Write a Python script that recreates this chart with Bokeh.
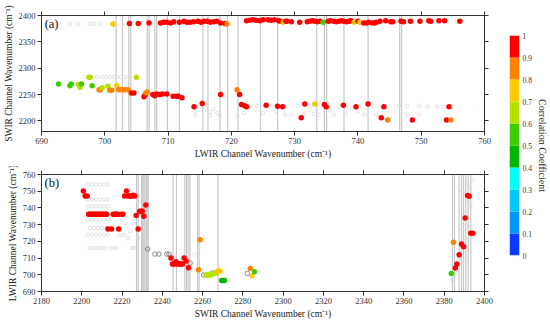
from bokeh.plotting import figure
from bokeh.models import Span, Label, FixedTicker, LinearAxis, LinearColorMapper, ColumnDataSource, Range1d
from bokeh.layouts import row, column
from bokeh.embed import file_html
from bokeh.resources import INLINE

FONT = "Liberation Serif"

# ---------------- colour scale ----------------
palette = ["#0a3cff", "#0096ff", "#00c8ff", "#00ffff", "#00b400",
           "#3ccd00", "#b4e100", "#ffc800", "#ff8200", "#ff0000"]
cb_edges = [0.0, 0.1, 0.2, 0.3, 0.4, 0.5, 0.6, 0.7, 0.8, 0.9, 1.0]
cb_labels = ["0", "0.1", "0.2", "0.3", "0.4", "0.5", "0.6", "0.7", "0.8", "0.9", "1"]

# ---------------- panel (a) data ----------------
a_x = [701.3, 703.9, 705.3, 707.0, 708.8, 709.3, 709.8, 710.4, 710.9, 711.8, 712.5, 713.0,
       713.5, 714.0, 714.7, 715.2, 715.7, 716.2, 716.7, 717.2, 717.7, 718.3, 719.0, 719.3,
       722.4, 722.9, 723.4, 723.9, 724.5, 725.0, 725.8, 726.3, 726.8, 727.5, 727.8, 728.2,
       728.6, 728.8, 729.5, 730.8, 732.0, 732.4, 732.8, 733.2, 733.6, 734.0, 734.5, 735.3,
       735.7, 736.2, 736.6, 737.0, 737.4, 737.8, 738.2, 738.6, 738.9, 739.4, 740.0, 740.3,
       740.9, 741.4, 741.7, 742.3, 742.6, 742.9, 743.5, 744.4, 745.2, 745.5, 746.8, 747.2,
       748.3, 749.8, 751.2, 751.5, 752.8, 753.7, 756.1,
       692.7, 694.5, 694.7, 695.8, 696.1, 696.3, 697.5, 697.7, 698.0, 699.1, 699.3, 699.6,
       700.5, 700.8, 701.1, 701.9, 702.2, 702.6, 702.9, 703.3, 703.7, 704.2, 704.6, 705.0,
       706.2, 706.4, 706.5, 706.7, 707.6, 707.9, 708.2, 708.7, 709.1, 709.8, 710.8, 711.3,
       711.6, 712.2, 714.1, 715.4, 718.3, 720.9, 721.3, 721.6, 722.1, 722.4, 725.5, 727.3,
       728.1, 731.05, 731.6, 733.2, 734.7, 735.0, 737.7, 739.7, 741.6, 743.7, 744.1, 744.7,
       748.6, 754.0, 754.4, 754.7]
a_y = [2384, 2385, 2385, 2386, 2386, 2387, 2387, 2386, 2388, 2387, 2389, 2387,
       2387, 2388, 2389, 2387, 2389, 2389, 2387, 2388, 2389, 2386, 2385, 2384,
       2390, 2391, 2392, 2391, 2390, 2392, 2392, 2391, 2392, 2390, 2389, 2387,
       2389, 2389, 2388, 2387, 2388, 2389, 2390, 2389, 2388, 2389, 2387, 2389,
       2390, 2389, 2388, 2389, 2390, 2389, 2388, 2389, 2390, 2387, 2389, 2387,
       2386, 2386, 2387, 2386, 2386, 2387, 2389, 2390, 2388, 2388, 2389, 2388,
       2389, 2389, 2390, 2389, 2390, 2390, 2389,
       2270, 2267, 2270, 2269, 2264, 2270, 2283, 2283, 2267, 2259, 2259, 2263,
       2266, 2258, 2258, 2267, 2259, 2259, 2259, 2259, 2259, 2253, 2253, 2283,
       2246, 2250, 2253, 2255, 2250, 2248, 2251, 2250, 2251, 2251, 2247, 2247,
       2247, 2244, 2227, 2233, 2250, 2259, 2250, 2231, 2229, 2227, 2230, 2228,
       2227, 2206, 2232, 2232, 2231, 2227, 2230, 2227, 2232, 2206, 2227, 2202,
       2202, 2202, 2227, 2202]
a_r = [0.75, 0.95, 0.95, 0.95, 0.95, 0.95, 0.95, 0.95, 0.95, 0.95, 0.95, 0.95,
       0.95, 0.95, 0.95, 0.95, 0.95, 0.95, 0.95, 0.95, 0.95, 0.95, 0.95, 0.85,
       0.95, 0.95, 0.95, 0.95, 0.95, 0.95, 0.95, 0.95, 0.95, 0.95, 0.95, 0.75,
       0.95, 0.95, 0.95, 0.95, 0.95, 0.95, 0.95, 0.95, 0.95, 0.95, 0.55, 0.95,
       0.95, 0.95, 0.95, 0.95, 0.95, 0.95, 0.95, 0.95, 0.95, 0.75, 0.95, 0.75,
       0.95, 0.95, 0.95, 0.95, 0.95, 0.95, 0.95, 0.95, 0.95, 0.95, 0.95, 0.95,
       0.95, 0.95, 0.95, 0.95, 0.95, 0.95, 0.95,
       0.55, 0.55, 0.55, 0.65, 0.65, 0.55, 0.65, 0.65, 0.55, 0.85, 0.85, 0.65,
       0.65, 0.85, 0.85, 0.75, 0.85, 0.85, 0.85, 0.85, 0.85, 0.95, 0.95, 0.65,
       0.95, 0.95, 0.85, 0.85, 0.95, 0.95, 0.95, 0.95, 0.95, 0.95, 0.95, 0.95,
       0.95, 0.95, 0.95, 0.95, 0.95, 0.85, 0.95, 0.95, 0.95, 0.95, 0.95, 0.95,
       0.95, 0.95, 0.95, 0.75, 0.95, 0.95, 0.95, 0.95, 0.95, 0.95, 0.95, 0.85,
       0.95, 0.95, 0.95, 0.85]

a_bg_x = [694.5, 695.8, 697.6, 698.3, 699.2,
          696.8, 698.8, 699.6, 700.2, 700.8, 701.4, 702.0, 702.6, 703.3, 704.0,
          714.3, 714.3, 716.0, 716.6, 716.6, 717.2, 717.8, 718.2, 721.0, 722.0, 723.0,
          724.0, 725.0, 727.0, 728.5, 729.5, 730.5, 731.5, 732.5, 733.0, 733.8, 734.5,
          735.6, 736.2, 737.0, 738.0, 738.6, 740.0, 741.0, 742.5, 743.0, 745.0, 746.5,
          747.8, 747.8, 749.7, 749.7, 751.0, 752.5, 753.5, 754.8, 755.5]
a_bg_y = [2384, 2384, 2384, 2384, 2384,
          2283, 2283, 2283, 2283, 2283, 2283, 2283, 2283, 2283, 2283,
          2218, 2210, 2225, 2217, 2210, 2222, 2215, 2210, 2210, 2215, 2228,
          2228, 2215, 2218, 2212, 2212, 2228, 2213, 2227, 2213, 2212, 2227,
          2220, 2212, 2227, 2212, 2227, 2218, 2212, 2228, 2212, 2206, 2228,
          2228, 2212, 2228, 2212, 2227, 2227, 2227, 2227, 2389]

a_lines = [701.8, 702.8, 703.8, 704.1, 706.7, 707.0, 707.9, 708.2, 709.9, 711.8, 715.5,
           716.3, 718.2, 719.4, 721.05, 724.6, 727.3, 733.5, 734.7, 735.05, 737.8, 741.6,
           746.6, 746.9]

# ---------------- panel (b) data ----------------
b_x = [2200.8, 2201.7, 2202.7,
       2203.4, 2204.0, 2204.6, 2205.2, 2205.8, 2206.4, 2207.0, 2207.6, 2208.2, 2208.8,
       2209.4, 2210.0, 2210.6, 2211.2, 2211.8, 2212.4,
       2213.0, 2214.8, 2215.6, 2216.2, 2216.8, 2217.4, 2218.0, 2218.3, 2219.6, 2220.4,
       2221.3, 2222.2, 2222.9, 2223.6, 2224.3, 2225.0, 2225.6, 2226.3,
       2227.0, 2228.0, 2228.8, 2229.5, 2230.0, 2230.8, 2231.8,
       2244.3, 2245.0, 2245.6, 2246.2, 2247.6, 2248.2, 2248.8, 2249.4, 2250.0, 2246.8,
       2250.8, 2251.8, 2253.0,
       2258.0, 2258.8,
       2261.7, 2262.3, 2262.9, 2263.5, 2264.2, 2265.8, 2266.4, 2267.0,
       2267.6, 2268.6, 2269.5, 2270.2, 2270.8,
       2283.7, 2284.5, 2285.8,
       2383.5, 2384.6, 2385.5, 2386.3, 2387.4, 2388.6, 2389.6, 2390.4, 2391.6, 2392.4,
       2393.2, 2394.2]
b_y = [750.2, 747.2, 747.2,
       736.2, 736.2, 736.2, 736.2, 736.2, 736.2, 736.2, 736.2, 736.2, 736.2,
       736.2, 736.2, 736.2, 736.2, 736.2, 736.2,
       727.4, 727.4, 736.2, 736.2, 736.2, 736.2, 736.2, 727.4, 736.2, 736.2,
       747.2, 750.2, 747.2, 747.2, 747.2, 747.2, 747.6, 747.2,
       735.4, 727.4, 738.0, 738.0, 738.0, 735.0, 741.8,
       710.0, 706.4, 706.4, 706.4, 706.4, 706.4, 706.4, 706.4, 706.4, 707.8,
       710.0, 708.2, 704.2,
       703.0, 721.0,
       699.8, 699.8, 699.8, 699.8, 699.8, 701.0, 701.0, 701.2,
       702.2, 702.2, 696.6, 696.6, 696.6,
       703.8, 699.4, 701.8,
       700.8, 719.4, 704.0, 706.4, 712.0, 718.4, 716.8, 734.0, 747.4, 747.0,
       724.8, 724.8]
b_r = [0.95, 0.95, 0.95,
       0.95, 0.95, 0.95, 0.95, 0.95, 0.95, 0.95, 0.95, 0.95, 0.95,
       0.95, 0.95, 0.95, 0.95, 0.95, 0.95,
       0.95, 0.95, 0.95, 0.95, 0.95, 0.95, 0.95, 0.95, 0.95, 0.95,
       0.95, 0.95, 0.95, 0.95, 0.95, 0.95, 0.95, 0.95,
       0.95, 0.95, 0.95, 0.95, 0.95, 0.95, 0.95,
       0.95, 0.95, 0.95, 0.95, 0.95, 0.95, 0.95, 0.95, 0.95, 0.95,
       0.95, 0.95, 0.95,
       0.85, 0.85,
       0.65, 0.65, 0.65, 0.65, 0.65, 0.65, 0.65, 0.65,
       0.75, 0.75, 0.45, 0.45, 0.45,
       0.85, 0.75, 0.55,
       0.55, 0.85, 0.95, 0.95, 0.95, 0.95, 0.95, 0.95, 0.95, 0.95,
       0.95, 0.95]

b_open_x = [2232.7, 2236.3, 2238.3, 2242.2, 2243.3, 2253.8, 2260.5, 2264.7, 2282.2]
b_open_y = [715.4, 712.4, 712.4, 712.4, 712.4, 707.0, 699.8, 701.0, 700.8]

b_bg_x = [2203, 2205, 2207, 2209, 2211, 2213, 2203, 2205, 2207, 2209, 2211, 2213,
          2203, 2205, 2207, 2209, 2211, 2213, 2203, 2205, 2207, 2209, 2211, 2213,
          2203, 2205, 2207, 2209, 2211, 2213, 2204, 2206, 2208, 2210, 2212,
          2204, 2206, 2208, 2210, 2212, 2215, 2217, 2219, 2221, 2223, 2225,
          2220, 2222, 2224, 2226, 2228, 2226, 2228, 2256, 2258,
          2394, 2393, 2392, 2393, 2391, 2390, 2392, 2389, 2391, 2388, 2387, 2386,
          2385, 2384, 2390, 2389, 2391, 2392]
b_bg_y = [754, 754, 754, 754, 754, 754, 745, 745, 745, 745, 745, 745,
          741, 741, 741, 741, 741, 741, 733, 733, 733, 733, 733, 733,
          724, 724, 724, 724, 724, 724, 728, 728, 728, 728, 728,
          716, 716, 716, 716, 716, 716, 716, 724, 724, 722, 716,
          733, 731, 726, 732, 744, 716, 722, 712, 716,
          757, 752, 744, 741, 738, 731, 729, 727, 721, 714, 709, 703,
          699, 697, 708, 750, 736, 754]

b_lines = [2227.2, 2228.0, 2229.7, 2230.3, 2230.8, 2231.3, 2232.0, 2232.5, 2233.0,
           2245.3, 2247.0, 2251.2, 2252.0, 2252.8, 2253.7, 2257.5, 2258.3, 2267.7,
           2384.1, 2385.1, 2387.4, 2388.6, 2389.6, 2390.7, 2391.9, 2393.2]

# ticks
a_xticks = [690, 700, 710, 720, 730, 740, 750, 760]
a_yticks = [2200, 2250, 2300, 2350, 2400]
b_xticks = [2180, 2200, 2220, 2240, 2260, 2280, 2300, 2320, 2340, 2360, 2380, 2400]
b_yticks = [690, 700, 710, 720, 730, 740, 750, 760]

mapper = LinearColorMapper(palette=palette, low=0, high=1)


def style_axis(ax, ticks, labels=True):
    ax.ticker = FixedTicker(ticks=ticks)
    ax.axis_line_color = "#333333"
    ax.major_tick_line_color = "#333333"
    ax.major_tick_in = 0
    ax.major_tick_out = 4
    ax.minor_tick_line_color = None
    ax.major_label_text_font = FONT
    ax.major_label_text_color = "#333333"
    ax.major_label_text_font_size = "8.5px"
    ax.axis_label_text_font = FONT
    ax.axis_label_text_font_style = "normal"
    ax.axis_label_text_color = "#222222"
    ax.axis_label_text_font_size = "9.5px"
    ax.axis_label_standoff = 2
    ax.major_label_standoff = 2
    if not labels:
        ax.major_label_overrides = {t: "" for t in ticks}
        ax.major_label_standoff = 0


def make_panel(xr, yr, xt, yt, xlabel, ylabel, top, bottom, fh):
    p = figure(output_backend="svg", toolbar_location=None,
               frame_width=443, frame_height=fh,
               min_border_left=40, min_border_right=10,
               min_border_top=top, min_border_bottom=bottom,
               x_range=Range1d(*xr), y_range=Range1d(*yr),
               background_fill_color="white", border_fill_color="white")
    p.outline_line_color = "#333333"
    p.grid.visible = False
    p.xaxis.axis_label = xlabel
    p.yaxis.axis_label = ylabel
    for ax in p.xaxis:
        style_axis(ax, xt)
    for ax in p.yaxis:
        style_axis(ax, yt)
    top_ax = LinearAxis()
    right_ax = LinearAxis()
    style_axis(top_ax, xt, labels=False)
    style_axis(right_ax, yt, labels=False)
    p.add_layout(top_ax, "above")
    p.add_layout(right_ax, "right")
    return p


pa = make_panel((690, 760), (2180, 2400), a_xticks, a_yticks,
                "LWIR Channel Wavenumber (cm\u207b\u00b9)",
                "SWIR Channel Wavenumber (cm\u207b\u00b9)", 15, 35, 116)
for loc in a_lines:
    pa.add_layout(Span(location=loc, dimension="height", line_color="#c8c8c8",
                       line_width=1.2, level="underlay"))
pa.scatter(a_bg_x, a_bg_y, size=3.5, fill_alpha=0, line_color="#dadada", line_width=0.8)
src_a = ColumnDataSource(dict(x=a_x, y=a_y, r=a_r))
pa.scatter("x", "y", source=src_a, size=5.5, line_color=None,
           fill_color={"field": "r", "transform": mapper})
pa.add_layout(Label(x=690.5, y=2397, text="(a)", text_font=FONT, text_font_size="12.5px",
                    text_baseline="top", text_color="#111111"))

pb = make_panel((2180, 2400), (690, 760), b_xticks, b_yticks,
                "SWIR Channel Wavenumber (cm\u207b\u00b9)",
                "LWIR Channel Wavenumber (cm\u207b\u00b9)", 8, 31, 117)
for loc in b_lines:
    pb.add_layout(Span(location=loc, dimension="height", line_color="#c8c8c8",
                       line_width=1.2, level="underlay"))
pb.scatter(b_bg_x, b_bg_y, size=3.5, fill_alpha=0, line_color="#dadada", line_width=0.8)
pb.scatter(b_open_x, b_open_y, size=4.5, fill_alpha=0, line_color="#888888", line_width=1)
src_b = ColumnDataSource(dict(x=b_x, y=b_y, r=b_r))
pb.scatter("x", "y", source=src_b, size=5.5, line_color=None,
           fill_color={"field": "r", "transform": mapper})
pb.add_layout(Label(x=2181.5, y=759, text="(b)", text_font=FONT, text_font_size="12.5px",
                    text_baseline="top", text_color="#111111"))

# ---------------- colour bar ----------------
pc = figure(output_backend="svg", toolbar_location=None,
            frame_width=10, frame_height=220,
            min_border_left=15, min_border_right=32, min_border_top=35, min_border_bottom=67,
            x_range=Range1d(0, 1), y_range=Range1d(0, 1),
            x_axis_location=None, y_axis_location="right")
pc.outline_line_color = None
pc.grid.visible = False
pc.quad(left=0, right=1, bottom=cb_edges[:-1], top=cb_edges[1:],
        fill_color=palette, line_color=None)
cax = pc.yaxis[0]
cax.ticker = FixedTicker(ticks=cb_edges)
cax.major_label_overrides = {e: l for e, l in zip(cb_edges, cb_labels)}
cax.axis_line_color = None
cax.major_tick_line_color = None
cax.major_tick_in = 0
cax.major_tick_out = 0
cax.minor_tick_line_color = None
cax.minor_tick_in = 0
cax.minor_tick_out = 0
cax.major_label_text_font = FONT
cax.major_label_text_font_size = "7.5px"
cax.major_label_text_color = "#333333"
cax.major_label_standoff = 3
cax.axis_label = "Correlation Coefficient"
cax.axis_label_text_font = FONT
cax.axis_label_text_font_style = "normal"
cax.axis_label_text_font_size = "10px"
cax.axis_label_text_color = "#222222"
cax.axis_label_standoff = 2

layout = row(column(pa, pb), pc)
open("out.html", "w").write(file_html(layout, INLINE))
